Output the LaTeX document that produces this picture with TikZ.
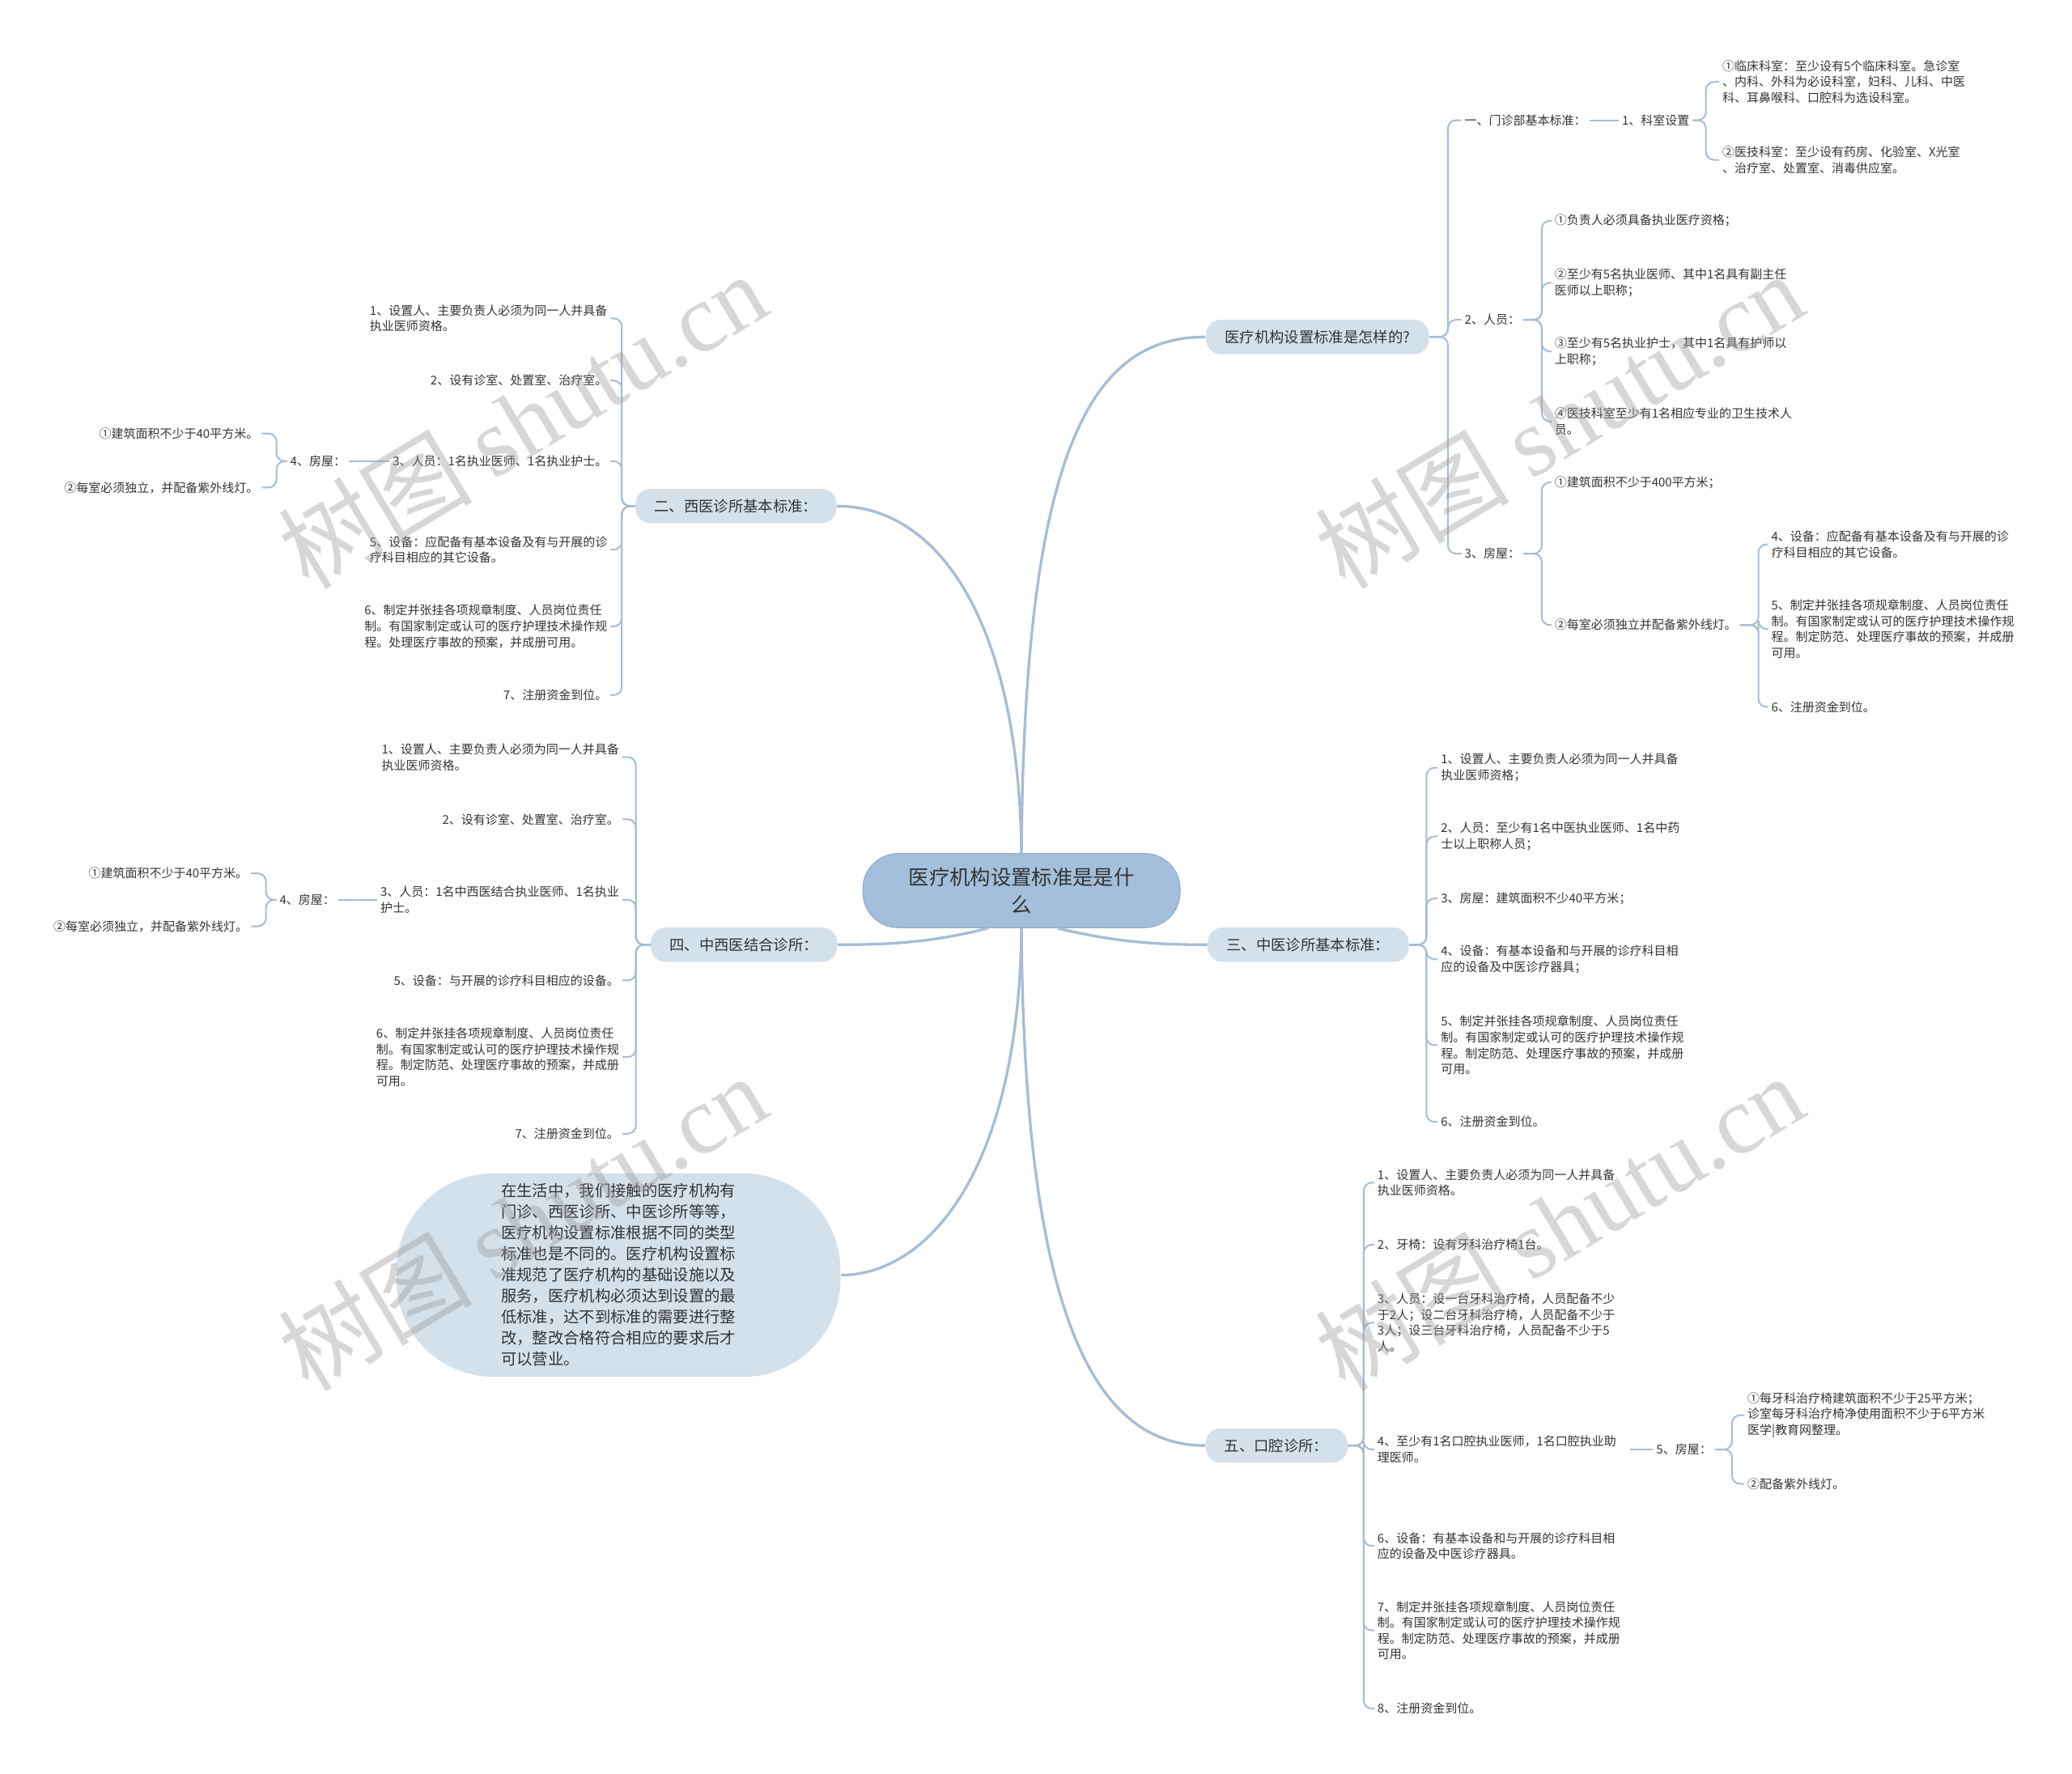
\documentclass[tikz,border=0pt]{standalone}
\usepackage{fontspec}
\setmainfont{Noto Sans CJK SC}
\newfontfamily\wmlat{Liberation Serif}
\usetikzlibrary{calc}
\definecolor{lc}{HTML}{A5BDD5}
\definecolor{cfill}{HTML}{A3BFDB}
\definecolor{cline}{HTML}{93B1CF}
\definecolor{pfill}{HTML}{D4E0EA}
\definecolor{tc}{HTML}{333333}
\definecolor{wmc}{HTML}{9A9A9A}
\begin{document}
\begin{tikzpicture}[x=0.4898pt,y=-0.4898pt,
  conn/.style={draw=lc, line width=0.6pt, rounded corners=3pt},
  mconn/.style={draw=lc, line width=1pt},
  sm/.style={font=\fontsize{4.5}{5.88}\selectfont, text=tc, inner sep=1pt, align=left},
  smr/.style={sm, anchor=east},
  sml/.style={sm, anchor=west},
  pill/.style={fill=pfill, rounded corners=5.5pt, font=\fontsize{5.5}{7}\selectfont, text=tc, minimum height=12.7pt, inner xsep=7pt},
  central/.style={fill=cfill, draw=cline, line width=0.4pt, rounded corners=13pt, minimum width=117.5pt, minimum height=27.4pt, font=\fontsize{7.6}{10.3}\selectfont, text=tc, align=center, inner sep=1pt},
  summ/.style={fill=pfill, rounded corners=36pt, minimum width=164.6pt, minimum height=75.4pt, font=\fontsize{5.8}{7.8}\selectfont, text=tc, align=left, inner sep=1pt},
  wmk/.style={font=\fontsize{36}{36}\selectfont, text=wmc, text opacity=0.4, rotate=31, inner sep=0pt}
]
\useasboundingbox (0,0) rectangle (1568,1342);

% central node
\node[central] (C0) at (773,674) {医疗机构设置标准是是什\\么};

% main branch pills
\node[pill] (P1) at (997,255) {医疗机构设置标准是怎样的?};
\node[pill] (P2) at (557,383) {二、西医诊所基本标准：};
\node[pill] (P4) at (563,715) {四、中西医结合诊所：};
\node[pill] (P3) at (990,715) {三、中医诊所基本标准：};
\node[pill] (P5) at (966,1094) {五、口腔诊所：};
\node[summ] (S) at (468,965) {在生活中，我们接触的医疗机构有\\门诊、西医诊所、中医诊所等等，\\医疗机构设置标准根据不同的类型\\标准也是不同的。医疗机构设置标\\准规范了医疗机构的基础设施以及\\服务，医疗机构必须达到设置的最\\低标准，达不到标准的需要进行整\\改，整改合格符合相应的要求后才\\可以营业。};

% central connectors
\draw[mconn] (C0.north) .. controls (775,330) and (830,255) .. (P1.west);
\draw[mconn] (C0.north) .. controls (771,470) and (710,383) .. (P2.east);
\draw[mconn] ($(C0.south)+(-25,0)$) .. controls (710,712) and (680,715) .. (P4.east);
\draw[mconn] ($(C0.south)+(27,0)$) .. controls (840,712) and (870,715) .. (P3.west);
\draw[mconn] (C0.south) .. controls (775,1000) and (830,1094) .. (P5.west);
\draw[mconn] (C0.south) .. controls (771,890) and (700,965) .. (S.east);

% ---------- P1 ----------
\node[sml] (A1) at (1106,91) {一、门诊部基本标准：};
\node[sml] (A1a) at (1225,91) {1、科室设置};
\node[sml] (A1a1) at (1301,62) {①临床科室：至少设有5个临床科室。急诊室\\、内科、外科为必设科室，妇科、儿科、中医\\科、耳鼻喉科、口腔科为选设科室。};
\node[sml] (A1a2) at (1301,121) {②医技科室：至少设有药房、化验室、X光室\\、治疗室、处置室、消毒供应室。};
\node[sml] (A2) at (1106,242) {2、人员：};
\node[sml] (A21) at (1174,167) {①负责人必须具备执业医疗资格；};
\node[sml] (A22) at (1174,214) {②至少有5名执业医师、其中1名具有副主任\\医师以上职称；};
\node[sml] (A23) at (1174,266) {③至少有5名执业护士，其中1名具有护师以\\上职称；};
\node[sml] (A24) at (1174,319) {④医技科室至少有1名相应专业的卫生技术人\\员。};
\node[sml] (A3) at (1106,419) {3、房屋：};
\node[sml] (A31) at (1174,365) {①建筑面积不少于400平方米；};
\node[sml] (A32) at (1174,473) {②每室必须独立并配备紫外线灯。};
\node[sml] (A33) at (1338,412) {4、设备：应配备有基本设备及有与开展的诊\\疗科目相应的其它设备。};
\node[sml] (A34) at (1338,476) {5、制定并张挂各项规章制度、人员岗位责任\\制。有国家制定或认可的医疗护理技术操作规\\程。制定防范、处理医疗事故的预案，并成册\\可用。};
\node[sml] (A35) at (1338,535) {6、注册资金到位。};

\foreach \c in {A1,A2,A3} \draw[conn] (P1.east) -- ++(14,0) |- (\c.west);
\draw[conn] (A1.east) -- (A1a.west);
\foreach \c in {A1a1,A1a2} \draw[conn] (A1a.east) -- ++(10,0) |- (\c.west);
\foreach \c in {A21,A22,A23,A24} \draw[conn] (A2.east) -- ++(14,0) |- (\c.west);
\foreach \c in {A31,A32} \draw[conn] (A3.east) -- ++(14,0) |- (\c.west);
\foreach \c in {A33,A34,A35} \draw[conn] (A32.east) -- ++(14,0) |- (\c.west);

% ---------- P2 ----------
\node[smr] (B1) at (462,241) {1、设置人、主要负责人必须为同一人并具备\\执业医师资格。};
\node[smr] (B2) at (462,288) {2、设有诊室、处置室、治疗室。};
\node[smr] (B3) at (462,349) {3、人员：1名执业医师、1名执业护士。};
\node[smr] (B4) at (264,349) {4、房屋：};
\node[smr] (B41) at (198,328) {①建筑面积不少于40平方米。};
\node[smr] (B42) at (198,369) {②每室必须独立，并配备紫外线灯。};
\node[smr] (B5) at (462,416) {5、设备：应配备有基本设备及有与开展的诊\\疗科目相应的其它设备。};
\node[smr] (B6) at (462,474) {6、制定并张挂各项规章制度、人员岗位责任\\制。有国家制定或认可的医疗护理技术操作规\\程。处理医疗事故的预案，并成册可用。};
\node[smr] (B7) at (462,526) {7、注册资金到位。};

\foreach \c in {B1,B2,B3,B5,B6,B7} \draw[conn] (P2.west) -- ++(-10,0) |- (\c.east);
\draw[conn] (B3.west) -- (B4.east);
\foreach \c in {B41,B42} \draw[conn] (B4.west) -- ++(-8,0) |- (\c.east);

% ---------- P4 ----------
\node[smr] (D1) at (471,573) {1、设置人、主要负责人必须为同一人并具备\\执业医师资格。};
\node[smr] (D2) at (471,620) {2、设有诊室、处置室、治疗室。};
\node[smr] (D3) at (471,681) {3、人员：1名中西医结合执业医师、1名执业\\护士。};
\node[smr] (D4) at (256,681) {4、房屋：};
\node[smr] (D41) at (190,661) {①建筑面积不少于40平方米。};
\node[smr] (D42) at (190,701) {②每室必须独立，并配备紫外线灯。};
\node[smr] (D5) at (471,742) {5、设备：与开展的诊疗科目相应的设备。};
\node[smr] (D6) at (471,800) {6、制定并张挂各项规章制度、人员岗位责任\\制。有国家制定或认可的医疗护理技术操作规\\程。制定防范、处理医疗事故的预案，并成册\\可用。};
\node[smr] (D7) at (471,858) {7、注册资金到位。};

\foreach \c in {D1,D2,D3,D5,D6,D7} \draw[conn] (P4.west) -- ++(-11,0) |- (\c.east);
\draw[conn] (D3.west) -- (D4.east);
\foreach \c in {D41,D42} \draw[conn] (D4.west) -- ++(-8,0) |- (\c.east);

% ---------- P3 ----------
\node[sml] (C1) at (1088,581) {1、设置人、主要负责人必须为同一人并具备\\执业医师资格；};
\node[sml] (C2) at (1088,633) {2、人员：至少有1名中医执业医师、1名中药\\士以上职称人员；};
\node[sml] (C3) at (1088,680) {3、房屋：建筑面积不少40平方米；};
\node[sml] (C4) at (1088,726) {4、设备：有基本设备和与开展的诊疗科目相\\应的设备及中医诊疗器具；};
\node[sml] (C5) at (1088,791) {5、制定并张挂各项规章制度、人员岗位责任\\制。有国家制定或认可的医疗护理技术操作规\\程。制定防范、处理医疗事故的预案，并成册\\可用。};
\node[sml] (C6) at (1088,849) {6、注册资金到位。};

\foreach \c in {C1,C2,C3,C4,C5,C6} \draw[conn] (P3.east) -- ++(13,0) |- (\c.west);

% ---------- P5 ----------
\node[sml] (E1) at (1040,895) {1、设置人、主要负责人必须为同一人并具备\\执业医师资格。};
\node[sml] (E2) at (1040,942) {2、牙椅：设有牙科治疗椅1台。};
\node[sml] (E3) at (1040,1001) {3、人员：设一台牙科治疗椅，人员配备不少\\于2人；设二台牙科治疗椅，人员配备不少于\\3人；设三台牙科治疗椅，人员配备不少于5\\人。};
\node[sml] (E4) at (1040,1097) {4、至少有1名口腔执业医师，1名口腔执业助\\理医师。};
\node[sml] (E5) at (1251,1097) {5、房屋：};
\node[sml] (E51) at (1320,1071) {①每牙科治疗椅建筑面积不少于25平方米；\\诊室每牙科治疗椅净使用面积不少于6平方米\\医学|教育网整理。};
\node[sml] (E52) at (1320,1123) {②配备紫外线灯。};
\node[sml] (E6) at (1040,1170) {6、设备：有基本设备和与开展的诊疗科目相\\应的设备及中医诊疗器具。};
\node[sml] (E7) at (1040,1234) {7、制定并张挂各项规章制度、人员岗位责任\\制。有国家制定或认可的医疗护理技术操作规\\程。制定防范、处理医疗事故的预案，并成册\\可用。};
\node[sml] (E8) at (1040,1293) {8、注册资金到位。};

\foreach \c in {E1,E2,E3,E4,E6,E7,E8} \draw[conn] (P5.east) -- ++(12,0) |- (\c.west);
\draw[conn] ([xshift=4pt]E4.east) -- (E5.west);
\foreach \c in {E51,E52} \draw[conn] (E5.east) -- ++(13,0) |- (\c.west);

% ---------- watermarks ----------
\node[wmk] (W1) at (395,318) {树图 {\wmlat shutu.cn}};
\node[wmk] (W2) at (1180,318) {树图 {\wmlat shutu.cn}};
\node[wmk] (W3) at (395,925) {树图 {\wmlat shutu.cn}};
\node[wmk] (W4) at (1180,925) {树图 {\wmlat shutu.cn}};
\end{tikzpicture}
\end{document}
